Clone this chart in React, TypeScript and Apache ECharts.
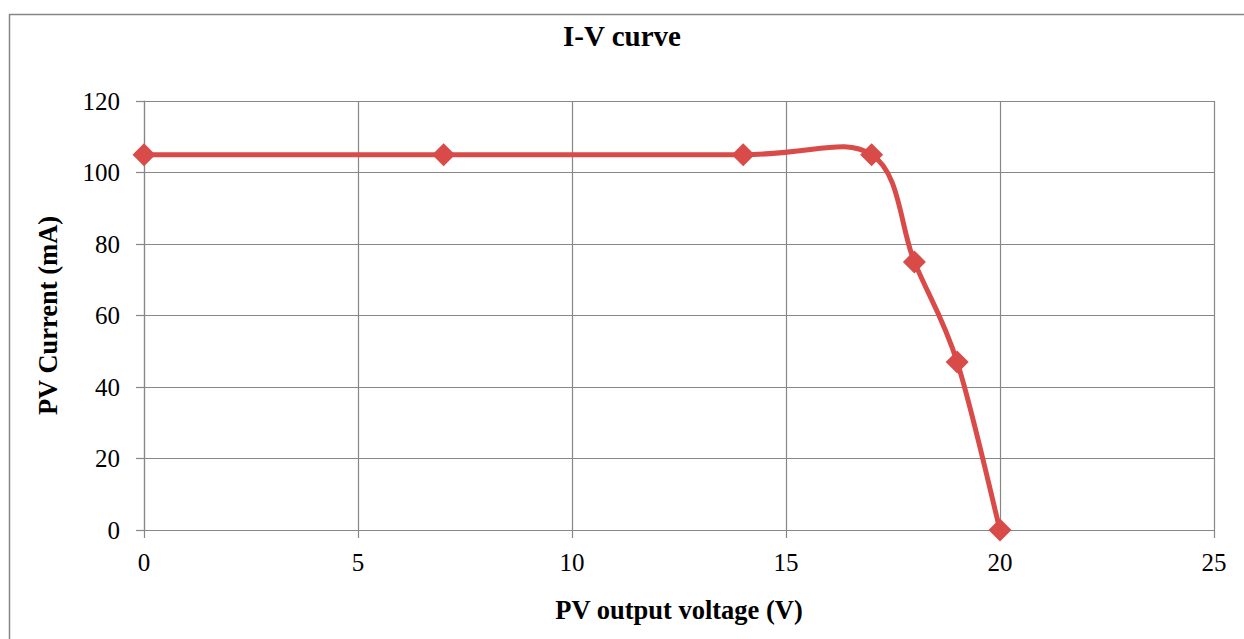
import React, { useEffect, useRef } from "react";
import * as echarts from "echarts";

const voltage = [0, 7, 14, 17, 18, 19, 20];
const current = [105, 105, 105, 105, 75, 47, 0];
const titleText = "I-V curve";
const xName = "PV output voltage (V)";
const yName = "PV Current (mA)";

const GRAY = "#878787";
const RED = "#D94B48";
const FONT = "'Liberation Serif', 'Times New Roman', serif";

export default function App() {
  const ref = useRef<HTMLDivElement>(null);
  useEffect(() => {
    document.body.style.margin = "0";
    const chart = echarts.init(ref.current!, null, { renderer: "svg" });
    const points = voltage.map((v, i) => [v, current[i]]);
    chart.setOption({
      animation: false,
      backgroundColor: "#ffffff",
      textStyle: { fontFamily: FONT },
      title: {
        text: titleText,
        left: "center",
        top: 16,
        textStyle: { fontFamily: FONT, fontSize: 29, fontWeight: "bold", color: "#000" },
      },
      graphic: [
        {
          type: "rect",
          shape: { x: 9.5, y: 14.5, width: 1400, height: 800 },
          style: { fill: "none", stroke: GRAY, lineWidth: 1.5 },
          silent: true,
        },
      ],
      grid: { left: 144, right: 30, top: 101, bottom: 109, containLabel: false },
      xAxis: {
        type: "value",
        min: 0,
        max: 25,
        interval: 5,
        name: xName,
        nameLocation: "middle",
        nameGap: 66,
        nameTextStyle: { fontFamily: FONT, fontSize: 26.5, fontWeight: "bold", color: "#000" },
        axisLine: { show: true, lineStyle: { color: GRAY, width: 1.2 } },
        axisTick: { show: true, inside: false, length: 8, lineStyle: { color: GRAY, width: 1.2 } },
        axisLabel: { fontFamily: FONT, fontSize: 25, color: "#000", margin: 20 },
        splitLine: { show: true, lineStyle: { color: GRAY, width: 1.2 } },
      },
      yAxis: {
        type: "value",
        min: 0,
        max: 120,
        interval: 20,
        name: yName,
        nameLocation: "middle",
        nameGap: 83,
        nameTextStyle: { fontFamily: FONT, fontSize: 26.5, fontWeight: "bold", color: "#000" },
        axisLine: { show: true, lineStyle: { color: GRAY, width: 1.2 } },
        axisTick: { show: true, inside: false, length: 8, lineStyle: { color: GRAY, width: 1.2 } },
        axisLabel: { fontFamily: FONT, fontSize: 25, color: "#000", margin: 24 },
        splitLine: { show: true, lineStyle: { color: GRAY, width: 1.2 } },
      },
      series: [
        {
          type: "custom",
          data: points,
          z: 4,
          silent: true,
          renderItem: (params: any, api: any) => {
            if (params.dataIndex !== 0) return null;
            const P = points.map((p) => api.coord(p));
            const n = P.length;
            let d = `M${P[0][0]},${P[0][1]}`;
            for (let i = 0; i < n - 1; i++) {
              const p0 = P[Math.max(i - 1, 0)];
              const p1 = P[i];
              const p2 = P[i + 1];
              const p3 = P[Math.min(i + 2, n - 1)];
              const c1x = p1[0] + (p2[0] - p0[0]) / 6;
              const c1y = p1[1] + (p2[1] - p0[1]) / 6;
              const c2x = p2[0] - (p3[0] - p1[0]) / 6;
              const c2y = p2[1] - (p3[1] - p1[1]) / 6;
              d += ` C${c1x},${c1y} ${c2x},${c2y} ${p2[0]},${p2[1]}`;
            }
            return {
              type: "path",
              shape: { pathData: d },
              style: { fill: "none", stroke: RED, lineWidth: 5, lineJoin: "round", lineCap: "round" },
            };
          },
        },
        {
          type: "scatter",
          data: points,
          symbol: "diamond",
          symbolSize: 23,
          itemStyle: { color: RED, opacity: 1 },
          z: 5,
        },
      ],
    });
    return () => chart.dispose();
  }, []);
  return <div ref={ref} style={{ width: 1244, height: 639, position: "absolute", left: 0, top: 0 }} />;
}
